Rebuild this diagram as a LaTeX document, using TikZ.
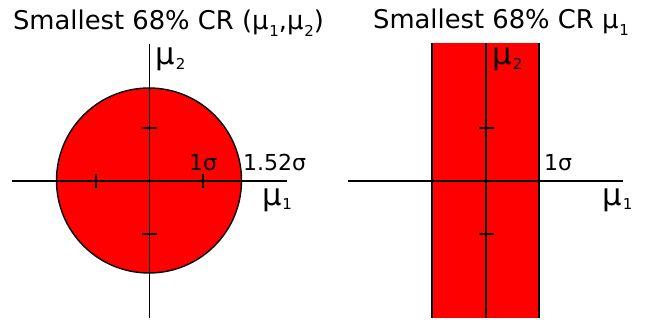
\documentclass[tikz,border=0pt]{standalone}
\usepackage{fontspec}
\setmainfont{DejaVu Sans}
\usepackage{tikz}

\newcommand{\lowsub}[2][4.5pt]{\kern0.8pt\raisebox{-#1}{\fontsize{15}{15}\selectfont #2}}
\definecolor{crred}{RGB}{255,0,0}

\tikzset{
  axis/.style={line width=1.4},
  tick/.style={line width=1.4},
  title/.style={anchor=base, inner sep=0, font=\fontsize{25.8}{30}\selectfont},
  lab/.style={anchor=base west, inner sep=0, font=\fontsize{22}{26}\selectfont},
  mulab/.style={anchor=base west, inner sep=0, font=\fontsize{30.5}{34}\selectfont}
}

\begin{document}
\begin{tikzpicture}[x=1pt,y=1pt,yscale=-1,xscale=1]
\useasboundingbox (0,0) rectangle (653,320);

%Shape: Circle
\draw [axis, fill=crred] (149,180.5) circle [radius=92.5];
%Straight Lines
\draw [axis] (12,181) -- (287,181);
\draw [axis] (149.5,44) -- (149.5,318);
%Ticks
\draw [tick] (96,174) -- (96,188);
\draw [tick] (203,174) -- (203,188);
\draw [tick] (142,128) -- (157,128);
\draw [tick] (142,234) -- (157,234);

%Shape: Rectangle
\fill [crred] (432,43.5) rectangle (539,318);
\draw [axis] (432,43.5) -- (432,318);
\draw [axis] (539,43.5) -- (539,318);
%Straight Lines
\draw [axis] (348,181) -- (623,181);
\draw [axis] (486,43.5) -- (486,318);
%Ticks
\draw [tick] (479,128) -- (494,128);
\draw [tick] (479,234) -- (494,234);

% Text Node
\node (titleA) [title] at (168.5,30) {Smallest 68\% CR (μ\lowsub[7pt]{1},μ\lowsub[7pt]{2})};
\node (titleB) [title] at (501,29) {Smallest 68\% CR μ\lowsub[7pt]{1}};
% Text Node
\node (muTwoA) [mulab] at (155.5,65) {μ\lowsub{2}};
\node (sigA) [lab] at (189,171) {1σ};
\node (sigEdge) [lab] at (243,171) {1.52σ};
\node (muOneA) [mulab] at (262,205.5) {μ\lowsub{1}};
% Text Node
\node (muTwoB) [mulab] at (492.5,65) {μ\lowsub{2}};
\node (sigB) [lab] at (544,171) {1σ};
\node (muOneB) [mulab] at (602.5,205.5) {μ\lowsub{1}};

\end{tikzpicture}
\end{document}
